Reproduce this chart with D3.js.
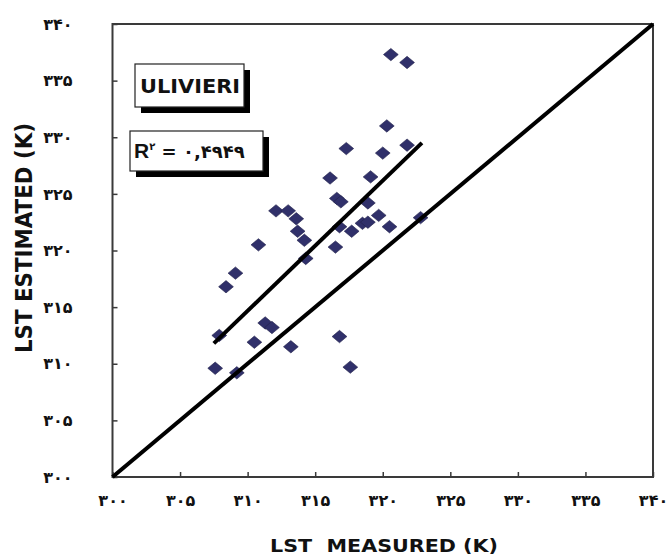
<!DOCTYPE html>
<html>
<head>
<meta charset="utf-8">
<script src="https://cdn.jsdelivr.net/npm/d3@7"></script>
<style>
  body { margin: 0; background: #fff; }
  svg { display: block; }
  text { font-family: "DejaVu Sans", "Liberation Sans", sans-serif; font-weight: bold; fill: #111; }
</style>
</head>
<body>
<svg id="chart" width="671" height="558"></svg>
<script>
// tick values and their Persian labels
var tickValues = [300, 305, 310, 315, 320, 325, 330, 335, 340];
var tickLabels = ['۳۰۰', '۳۰۵', '۳۱۰', '۳۱۵', '۳۲۰', '۳۲۵', '۳۳۰', '۳۳۵', '۳۴۰'];

// LST measured vs estimated (K)
var measured = [320.6, 321.8, 320.3, 317.3, 320.0, 321.8, 316.1, 319.1, 316.6, 316.9,
  318.9, 312.1, 313.0, 313.6, 313.7, 314.2, 314.3, 310.8, 309.1, 308.4,
  316.8, 317.7, 318.5, 318.9, 319.7, 320.5, 322.8, 316.5, 307.9, 311.3,
  311.8, 310.5, 313.2, 316.8, 307.6, 309.2, 317.6];
var estimated = [337.3, 336.6, 331.0, 329.0, 328.6, 329.3, 326.4, 326.5, 324.6, 324.3,
  324.2, 323.5, 323.5, 322.8, 321.7, 320.9, 319.3, 320.5, 318.0, 316.8,
  322.1, 321.7, 322.4, 322.5, 323.1, 322.1, 322.9, 320.3, 312.5, 313.6,
  313.2, 311.9, 311.5, 312.4, 309.6, 309.2, 309.7];

// fitted line end points and the 1:1 line
var fitX = [307.5, 322.9];
var fitY = [311.8, 329.5];
var oneToOne = [300, 340];

var modelName = 'ULIVIERI';
var r2Text = ' = ۰,۴۹۴۹';

var svg = d3.select('#chart');
var margin = {top: 24, right: 18, bottom: 81, left: 112.5};
var width = 671 - margin.left - margin.right;
var height = 558 - margin.top - margin.bottom;

var x = d3.scaleLinear().domain([300, 340]).range([margin.left, margin.left + width]);
var y = d3.scaleLinear().domain([300, 340]).range([margin.top + height, margin.top]);

function label(d) { return tickLabels[tickValues.indexOf(d)]; }

// frame
svg.append('rect')
  .attr('x', x(300)).attr('y', y(340))
  .attr('width', x(340) - x(300)).attr('height', y(300) - y(340))
  .attr('fill', 'none').attr('stroke', '#3a3a3a').attr('stroke-width', 2);

var xAxis = svg.append('g')
  .attr('transform', 'translate(0,' + y(300) + ')')
  .call(d3.axisBottom(x).tickValues(tickValues).tickFormat(label).tickSizeInner(-5).tickSizeOuter(0).tickPadding(18));
var yAxis = svg.append('g')
  .attr('transform', 'translate(' + x(300) + ',0)')
  .call(d3.axisLeft(y).tickValues(tickValues).tickFormat(label).tickSizeInner(-5).tickSizeOuter(0).tickPadding(40));

[xAxis, yAxis].forEach(function(g) {
  g.select('.domain').remove();
  g.selectAll('.tick line').attr('stroke', '#3a3a3a').attr('stroke-width', 1.5);
  g.selectAll('.tick text')
    .attr('font-family', '"DejaVu Sans", sans-serif')
    .attr('font-weight', 'bold')
    .attr('font-size', 16)
    .attr('fill', '#111');
});

// points
var diamond = 'M0,-6.2L7.4,0L0,6.2L-7.4,0Z';
svg.append('g').selectAll('path')
  .data(measured)
  .enter().append('path')
  .attr('d', diamond)
  .attr('transform', function(d, i) { return 'translate(' + x(d) + ',' + y(estimated[i]) + ')'; })
  .attr('fill', '#30306a')
  .attr('stroke', '#22224a')
  .attr('stroke-width', 0.6);

// lines
svg.append('line')
  .attr('x1', x(oneToOne[0])).attr('y1', y(oneToOne[0]))
  .attr('x2', x(oneToOne[1])).attr('y2', y(oneToOne[1]))
  .attr('stroke', '#000').attr('stroke-width', 4);
svg.append('line')
  .attr('x1', x(fitX[0])).attr('y1', y(fitY[0]))
  .attr('x2', x(fitX[1])).attr('y2', y(fitY[1]))
  .attr('stroke', '#000').attr('stroke-width', 4);

// boxes with shadow
function box(bx, by, bw, bh) {
  svg.append('rect').attr('x', bx + 6).attr('y', by + 6).attr('width', bw).attr('height', bh).attr('fill', '#000');
  svg.append('rect').attr('x', bx).attr('y', by).attr('width', bw).attr('height', bh)
    .attr('fill', '#fff').attr('stroke', '#222').attr('stroke-width', 1.2);
}

box(135, 64, 109, 43);
svg.append('text')
  .attr('x', 140).attr('y', 93)
  .attr('font-family', '"Liberation Sans", Arial, sans-serif')
  .attr('font-size', 20)
  .attr('textLength', 100).attr('lengthAdjust', 'spacingAndGlyphs')
  .text(modelName);

box(130, 131, 133, 40);
var r2 = svg.append('text')
  .attr('x', 134).attr('y', 158)
  .attr('font-size', 19);
r2.append('tspan').attr('font-family', '"Liberation Sans", Arial, sans-serif').attr('font-size', 21).text('R');
r2.append('tspan').attr('font-size', 10).attr('dy', -8).text('۲');
r2.append('tspan').attr('dy', 8).attr('font-size', 18).text(r2Text);

// axis titles
svg.append('text')
  .attr('x', 384).attr('y', 552)
  .attr('text-anchor', 'middle')
  .attr('font-family', '"Liberation Sans", Arial, sans-serif')
  .attr('font-size', 18)
  .attr('textLength', 228).attr('lengthAdjust', 'spacingAndGlyphs')
  .attr('xml:space', 'preserve')
  .text('LST  MEASURED (K)');

svg.append('text')
  .attr('transform', 'translate(32,238) rotate(-90) scale(1,1.25)')
  .attr('text-anchor', 'middle')
  .attr('font-family', '"Liberation Sans", Arial, sans-serif')
  .attr('font-size', 18)
  .attr('textLength', 230).attr('lengthAdjust', 'spacingAndGlyphs')
  .text('LST ESTIMATED (K)');
</script>
</body>
</html>
